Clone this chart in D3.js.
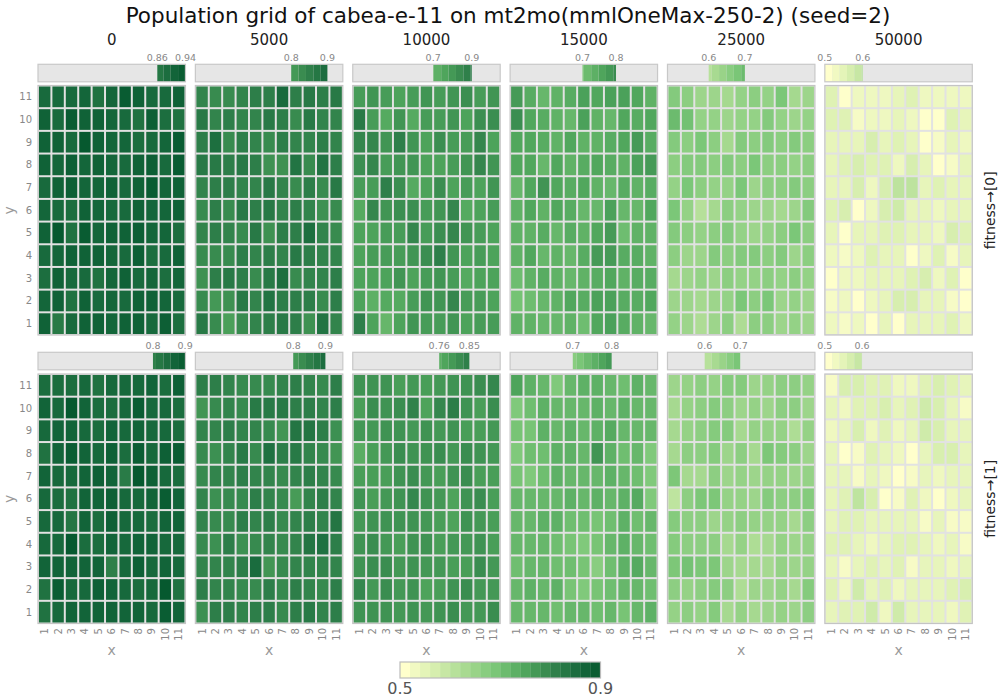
<!DOCTYPE html>
<html>
<head>
<meta charset="utf-8">
<script src="https://cdn.jsdelivr.net/npm/d3@7"></script>
<style>
  body { margin: 0; background: #fff; }
  text { font-family: "DejaVu Sans", sans-serif; }
</style>
</head>
<body>
<svg id="chart" width="1000" height="700"></svg>
<script>
// ---- data ----
var generations = [0, 5000, 10000, 15000, 25000, 50000];
var objectives = ["fitness\u2192[0]", "fitness\u2192[1]"];
var gridIdx = [1, 2, 3, 4, 5, 6, 7, 8, 9, 10, 11];

// per panel min / max of the population
var lowF0  = [0.856, 0.786, 0.740, 0.716, 0.623, 0.500];
var highF0 = [0.940, 0.894, 0.855, 0.816, 0.731, 0.613];
var lowF1  = [0.843, 0.792, 0.758, 0.687, 0.611, 0.500];
var highF1 = [0.939, 0.888, 0.848, 0.803, 0.717, 0.611];

// cell levels 0..9 between panel min and max, rows from y=11 down to y=1
var f0_0 = ["44452586446","64866542732","66496553458","65756546748","46755646856",
            "54365446556","69285667553","45666547346","36442564535","56264546654","60466566473"];
var f0_5000 = ["43345595656","64544653644","58354354454","66565227375","45544643536",
               "35365645423","45436255843","33354546544","25653683445","31264755535","63034565274"];
var f0_10000 = ["45434545645","94252445366","77585364473","67455334575","44862363435",
                "27566457234","33447467543","34445685343","33353454233","31224557443","83035445344"];
var f0_15000 = ["74234656653","95432632545","55435334574","55253454367","25854532434",
                "35354226225","33424357133","35232477443","13432345344","01235466445","33223156432"];
var f0_25000 = ["65332454723","98443446434","65752656565","56656575545","47544735565",
                "74025433236","65456434575","53365665635","23435445454","33234757343","43135155343"];
var f0_50000 = ["51333453333","55233431154","44464541243","45655364024","44636994544",
                "56036744344","41445544365","32354413524","13344456351","23034664420","32304044453"];
var f1_0 = ["44453555647","65964458554","56654656554","36865748578","65567619754",
            "54366755686","55264755466","55944656655","66666057565","38557654593","35666666586"];
var f1_5000 = ["55433345435","13436665545","44544317752","32463856431","34454434543",
               "42335430454","43354534547","32523434785","44459134444","54433535435","25545535645"];
var f1_10000 = ["55534345567","36568279536","44554545334","03465564654","33356435633",
                "53457542563","45555432543","56435534453","56645443364","74645235644","55545456446"];
var f1_15000 = ["75414554354","13544454544","22545456444","13355495341","21354445431",
                "44445454561","44553323534","44432124543","34433203564","45452123443","44434434245"];
var f1_25000 = ["45657745665","35676454664","35677355525","36674638764","83364545545",
                "06885547667","76645655536","76663523545","89884333545","65676244537","56573534546"];
var f1_50000 = ["26655335654","43556457642","34635347644","41254304664","44243024344",
                "45961253134","45544442422","55434554342","42454524434","53745344456","45573744435"];

var gridsF0 = [f0_0, f0_5000, f0_10000, f0_15000, f0_25000, f0_50000];
var gridsF1 = [f1_0, f1_5000, f1_10000, f1_15000, f1_25000, f1_50000];

// ---- build panel records ----
function toCells(rows, lo, hi) {
  var cells = [];
  rows.forEach(function(r, i) {
    r.split('').forEach(function(ch, j) {
      cells.push({x: gridIdx[j], y: gridIdx[10 - i], v: lo + (+ch) / 9 * (hi - lo)});
    });
  });
  return cells;
}

var panels = [];
[[gridsF0, lowF0, highF0], [gridsF1, lowF1, highF1]].forEach(function(obj, r) {
  generations.forEach(function(g, c) {
    panels.push({row: r, col: c, gen: g, cells: toCells(obj[0][c], obj[1][c], obj[2][c])});
  });
});

var allVals = [];
panels.forEach(function(p) { p.cells.forEach(function(d) { allVals.push(d.v); }); });
var dom = d3.extent(allVals);

// ---- scales ----
var stopT = [0.025, 0.175, 0.325, 0.475, 0.625, 0.775, 0.925, 1];
var color = d3.scaleLinear()
  .domain(stopT.map(function(t) { return dom[0] + t * (dom[1] - dom[0]); }))
  .range(["#ffffcc", "#d6eeae", "#a8da91", "#7ac677", "#4fa55c", "#2f804a", "#126439", "#06592f"])
  .clamp(true);

var colX = d3.scaleBand().domain(generations).range([38, 972.3]).paddingInner(0.063);
var rowTop = [85.5, 374];      // heatmap top
var barTop = [64.3, 352.3];    // mini range bar top
var heatH = 249.5, barH = 17.5;
var nBins = 20;
var binEdges = d3.range(nBins + 1).map(function(i) { return dom[0] + i * (dom[1] - dom[0]) / nBins; });

var svg = d3.select('#chart');

svg.append('text')
  .attr('x', 508).attr('y', 23)
  .attr('text-anchor', 'middle')
  .style('font-size', '21.5px').style('fill', '#111')
  .text('Population grid of cabea-e-11 on mt2mo(mmlOneMax-250-2) (seed=2)');

// column headers
svg.selectAll('.colhead').data(generations).enter().append('text')
  .attr('class', 'colhead')
  .attr('x', function(g) { return colX(g) + colX.bandwidth() / 2; })
  .attr('y', 44.5)
  .attr('text-anchor', 'middle')
  .style('font-size', '15px').style('fill', '#222')
  .text(function(g) { return g; });

var fmt1 = d3.format('.1f'), fmt2 = d3.format('.2f');

panels.forEach(function(p) {
  var x0 = colX(p.gen), w = colX.bandwidth();
  var y0 = rowTop[p.row];
  var g = svg.append('g');

  // mini range bar
  var bx = d3.scaleLinear().domain(dom).range([x0, x0 + w]);
  var ext = d3.extent(p.cells, function(d) { return d.v; });
  g.append('rect')
    .attr('x', x0).attr('y', barTop[p.row]).attr('width', w).attr('height', barH)
    .attr('fill', '#e6e6e6');
  var bins = [];
  for (var i = 0; i < nBins; i++) {
    var a = Math.max(binEdges[i], ext[0]), b = Math.min(binEdges[i + 1], ext[1]);
    if (b > a) bins.push({a: a, b: b, mid: (binEdges[i] + binEdges[i + 1]) / 2});
  }
  g.selectAll('.bin').data(bins).enter().append('rect')
    .attr('x', function(d) { return bx(d.a); })
    .attr('y', barTop[p.row])
    .attr('width', function(d) { return bx(d.b) - bx(d.a); })
    .attr('height', barH)
    .attr('fill', function(d) { return color(d.mid); });
  g.append('rect')
    .attr('x', x0).attr('y', barTop[p.row]).attr('width', w).attr('height', barH)
    .attr('fill', 'none').attr('stroke', '#c8c8c8').attr('stroke-width', 1.2);
  var f = fmt1(ext[0]) === fmt1(ext[1]) ? fmt2 : fmt1;
  g.selectAll('.rl').data(ext).enter().append('text')
    .attr('x', function(d) { return bx(d); })
    .attr('y', barTop[p.row] - 3.3)
    .attr('text-anchor', 'middle')
    .style('font-size', '9.5px').style('fill', '#888')
    .text(function(d) { return f(d); });

  // heatmap
  var cx = d3.scaleBand().domain(gridIdx).range([x0, x0 + w]);
  var cy = d3.scaleBand().domain(gridIdx.slice().reverse()).range([y0, y0 + heatH]);
  g.append('rect')
    .attr('x', x0).attr('y', y0).attr('width', w).attr('height', heatH)
    .attr('fill', '#e2e2e2').attr('stroke', '#c4c4c4').attr('stroke-width', 1.2);
  g.selectAll('.cell').data(p.cells).enter().append('rect')
    .attr('x', function(d) { return cx(d.x) + 1; })
    .attr('y', function(d) { return cy(d.y) + 1; })
    .attr('width', cx.bandwidth() - 2)
    .attr('height', cy.bandwidth() - 2)
    .attr('fill', function(d) { return color(d.v); });

  // y axis on first column
  if (p.col === 0) {
    g.selectAll('.yt').data(gridIdx).enter().append('text')
      .attr('x', 32)
      .attr('y', function(d) { return cy(d) + cy.bandwidth() / 2; })
      .attr('dy', '0.35em')
      .attr('text-anchor', 'end')
      .style('font-size', '10px').style('fill', '#888')
      .text(function(d) { return d; });
    g.append('text')
      .attr('transform', 'translate(14,' + (y0 + heatH / 2) + ') rotate(-90)')
      .attr('text-anchor', 'middle')
      .style('font-size', '14px').style('fill', '#999')
      .text('y');
  }
  // strip label on last column
  if (p.col === generations.length - 1) {
    g.append('text')
      .attr('transform', 'translate(995,' + (y0 + heatH / 2) + ') rotate(-90)')
      .attr('text-anchor', 'middle')
      .style('font-size', '14px').style('fill', '#222')
      .text(objectives[p.row]);
  }
  // x axis on bottom row
  if (p.row === 1) {
    g.selectAll('.xt').data(gridIdx).enter().append('text')
      .attr('transform', function(d) {
        return 'translate(' + (cx(d) + cx.bandwidth() / 2) + ',' + (y0 + heatH + 4.5) + ') rotate(-90)';
      })
      .attr('dy', '0.35em')
      .attr('text-anchor', 'end')
      .style('font-size', '10px').style('fill', '#888')
      .text(function(d) { return d; });
    g.append('text')
      .attr('x', x0 + w / 2).attr('y', 655)
      .attr('text-anchor', 'middle')
      .style('font-size', '14px').style('fill', '#999')
      .text('x');
  }
});

// colour legend
var lx = d3.scaleLinear().domain(dom).range([400, 600.5]);
var legBins = d3.range(nBins).map(function(i) { return {a: binEdges[i], b: binEdges[i + 1]}; });
svg.selectAll('.lb').data(legBins).enter().append('rect')
  .attr('x', function(d) { return lx(d.a); })
  .attr('y', 662)
  .attr('width', function(d) { return lx(d.b) - lx(d.a) + 0.3; })
  .attr('height', 16)
  .attr('fill', function(d) { return color((d.a + d.b) / 2); });
svg.append('rect')
  .attr('x', 400).attr('y', 662).attr('width', 200.5).attr('height', 16)
  .attr('fill', 'none').attr('stroke', '#bbb').attr('stroke-width', 1.2);
svg.selectAll('.ll').data(dom).enter().append('text')
  .attr('x', function(d) { return lx(d); })
  .attr('y', 694)
  .attr('text-anchor', 'middle')
  .style('font-size', '16px').style('fill', '#555')
  .text(function(d) { return fmt1(d); });
</script>
</body>
</html>
